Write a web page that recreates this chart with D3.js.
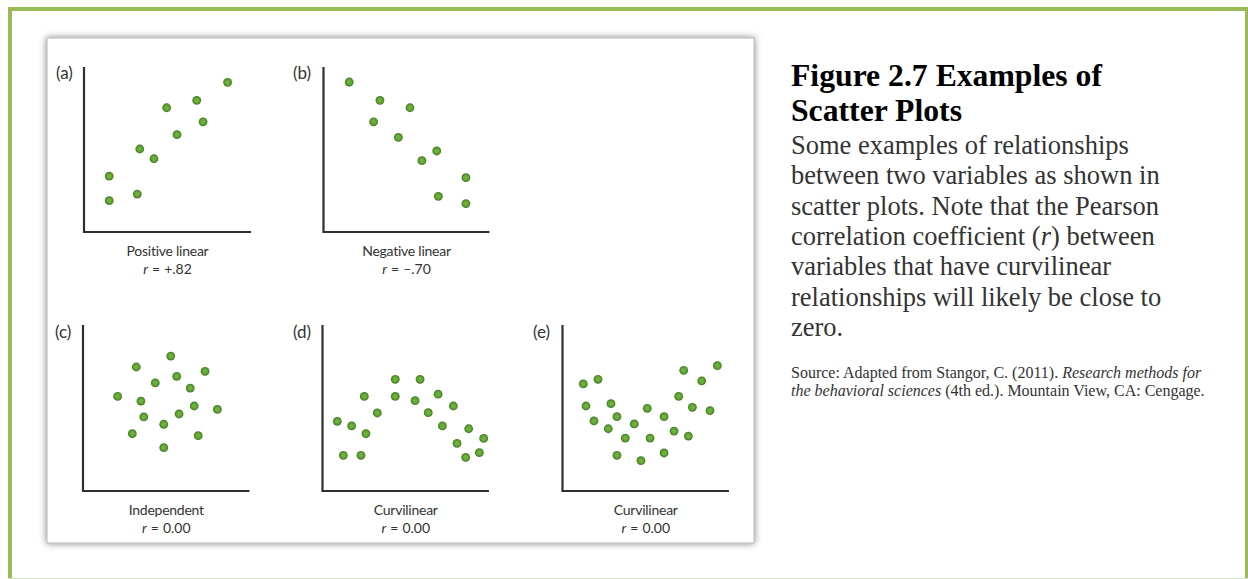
<!DOCTYPE html>
<html>
<head>
<meta charset="utf-8">
<script src="https://cdn.jsdelivr.net/npm/d3@7"></script>
<style>
  html, body { margin: 0; padding: 0; background: #ffffff; }
  svg { display: block; }
</style>
</head>
<body>
<script>
// ---------------- DATA ----------------
const panelIds = ["a", "b", "c", "d", "e"];
const panelTitles = ["Positive linear", "Negative linear", "Independent", "Curvilinear", "Curvilinear"];
const panelR = ["+.82", "\u2013.70", "0.00", "0.00", "0.00"];

// each point: [x, y] on a 0-10 axis
const pointsA = [[8.60,9.07],[6.75,7.98],[4.95,7.53],[7.13,6.68],[5.57,5.90],[3.34,5.03],[4.19,4.44],[1.51,3.39],[3.19,2.30],[1.51,1.90]];
const pointsB = [[1.55,9.09],[3.40,7.98],[5.21,7.53],[3.02,6.68],[4.51,5.74],[6.82,4.91],[5.93,4.32],[8.58,3.29],[6.92,2.16],[8.58,1.72]];
const pointsC = [[5.27,8.13],[3.20,7.47],[7.33,7.21],[5.63,6.91],[4.34,6.51],[6.44,6.20],[2.08,5.70],[3.48,5.42],[6.68,5.12],[8.07,4.92],[5.77,4.64],[3.65,4.46],[4.85,4.02],[2.96,3.45],[6.92,3.33],[4.85,2.61]];
const pointsD = [[4.37,6.73],[5.86,6.73],[2.51,5.70],[4.37,5.70],[6.94,5.83],[5.56,5.44],[7.86,5.12],[3.29,4.70],[6.35,4.72],[0.89,4.20],[1.75,3.92],[7.20,3.92],[8.78,3.75],[2.61,3.45],[9.68,3.17],[8.08,2.87],[9.42,2.31],[1.25,2.15],[2.31,2.15],[8.60,2.03]];
const pointsE = [[9.30,7.55],[7.28,7.27],[8.36,6.63],[2.13,6.73],[1.25,6.45],[6.98,5.70],[1.41,5.12],[2.91,5.26],[7.80,5.04],[5.09,4.98],[8.86,4.84],[6.10,4.48],[3.27,4.48],[1.89,4.22],[4.31,4.04],[2.75,3.75],[6.70,3.61],[7.56,3.31],[3.77,3.19],[5.26,3.19],[6.10,2.29],[3.27,2.15],[4.71,1.83]];
const panelPoints = [pointsA, pointsB, pointsC, pointsD, pointsE];
const axisDomain = [0, 10];

const titleLines = ["Figure 2.7 Examples of", "Scatter Plots"];
const bodyLines = [
  ["Some examples of relationships"],
  ["between two variables as shown in"],
  ["scatter plots. Note that the Pearson"],
  ["correlation coefficient (", "r", ") between"],
  ["variables that have curvilinear"],
  ["relationships will likely be close to"],
  ["zero."]
];
const sourceLines = [
  [["Source: Adapted from Stangor, C. (2011). ", false], ["Research methods for", true]],
  [["the behavioral sciences", true], [" (4th ed.). Mountain View, CA: Cengage.", false]]
];

// ---------------- LAYOUT ----------------
const W = 1248, H = 579;
const frames = [
  {x0: 84,    x1: 251,   yTop: 67,  yBot: 232, lx: 56,  ly: 79},
  {x0: 323.5, x1: 489.5, yTop: 67,  yBot: 232, lx: 293, ly: 79},
  {x0: 83,    x1: 249.5, yTop: 325, yBot: 491, lx: 55,  ly: 338},
  {x0: 322.5, x1: 489,   yTop: 325, yBot: 491, lx: 293, ly: 338},
  {x0: 562.5, x1: 729,   yTop: 325, yBot: 491, lx: 533, ly: 338}
];

const svg = d3.select("body").append("svg").attr("width", W).attr("height", H);
const defs = svg.append("defs");

const grad = defs.append("radialGradient").attr("id", "dot").attr("cx", "50%").attr("cy", "50%").attr("r", "50%");
grad.append("stop").attr("offset", "0%").attr("stop-color", "#78b848");
grad.append("stop").attr("offset", "55%").attr("stop-color", "#64a536");
grad.append("stop").attr("offset", "100%").attr("stop-color", "#3d7a1f");

const filt = defs.append("filter").attr("id", "shadow").attr("x", "-5%").attr("y", "-5%").attr("width", "110%").attr("height", "110%");
filt.append("feDropShadow").attr("dx", 0).attr("dy", 0).attr("stdDeviation", 3.5)
  .attr("flood-color", "#000").attr("flood-opacity", 0.5);

// outer green frame
svg.append("rect").attr("x", 0).attr("y", 0).attr("width", W).attr("height", H).attr("fill", "#fff");
svg.append("line").attr("x1", 8).attr("x2", 1248).attr("y1", 9).attr("y2", 9).attr("stroke", "#9bbb59").attr("stroke-width", 4);
svg.append("line").attr("x1", 10).attr("x2", 10).attr("y1", 7).attr("y2", 579).attr("stroke", "#9bbb59").attr("stroke-width", 4);
svg.append("line").attr("x1", 1246.5).attr("x2", 1246.5).attr("y1", 7).attr("y2", 579).attr("stroke", "#9bbb59").attr("stroke-width", 3);
svg.append("line").attr("x1", 8).attr("x2", 1248).attr("y1", 578.5).attr("y2", 578.5).attr("stroke", "#d5e3bb").attr("stroke-width", 1);

// image box with shadow
svg.append("rect").attr("x", 47).attr("y", 38).attr("width", 707).attr("height", 505)
  .attr("fill", "#fff").attr("stroke", "#b5b5b5").attr("stroke-width", 1).attr("filter", "url(#shadow)");

const labelFont = "Lato, 'Open Sans', sans-serif";

panelIds.forEach((id, i) => {
  const f = frames[i];
  const x = d3.scaleLinear().domain(axisDomain).range([f.x0, f.x1]);
  const y = d3.scaleLinear().domain(axisDomain).range([f.yBot, f.yTop]);
  const g = svg.append("g");

  // axes as L-shaped frame
  g.append("path")
    .attr("d", `M${x(0)},${y(10)} L${x(0)},${y(0)} L${x(10)},${y(0)}`)
    .attr("fill", "none").attr("stroke", "#2f2f2f").attr("stroke-width", 2.2);

  g.selectAll("circle").data(panelPoints[i]).join("circle")
    .attr("cx", d => x(d[0])).attr("cy", d => y(d[1])).attr("r", 4.4)
    .attr("fill", "url(#dot)");

  g.append("text").attr("x", f.lx).attr("y", f.ly)
    .attr("font-family", labelFont).attr("font-size", 17).attr("fill", "#333")
    .text("(" + id + ")");

  const cx = (x(0) + x(10)) / 2;
  g.append("text").attr("x", cx).attr("y", y(0) + 24).attr("text-anchor", "middle")
    .attr("font-family", labelFont).attr("font-size", 14).attr("letter-spacing", -0.25).attr("fill", "#333")
    .text(panelTitles[i]);
  const t = g.append("text").attr("x", cx).attr("y", y(0) + 41.5).attr("text-anchor", "middle")
    .attr("font-family", labelFont).attr("font-size", 14).attr("fill", "#333");
  t.append("tspan").attr("font-style", "italic").text("r");
  t.append("tspan").attr("dx", 4).text("=");
  t.append("tspan").attr("dx", 4).text(panelR[i]);
});

// right-hand caption
const serif = "'Liberation Serif', 'Times New Roman', serif";
titleLines.forEach((s, i) => {
  svg.append("text").attr("x", 791).attr("y", 86 + i * 35)
    .attr("font-family", serif).attr("font-weight", "bold").attr("font-size", 31.7).attr("fill", "#000")
    .text(s);
});
bodyLines.forEach((parts, i) => {
  const t = svg.append("text").attr("x", 791).attr("y", 154 + i * 30.3)
    .attr("font-family", serif).attr("font-size", 26.5).attr("fill", "#333");
  parts.forEach((p, j) => {
    t.append("tspan").attr("font-style", (parts.length === 3 && j === 1) ? "italic" : "normal").text(p);
  });
});
sourceLines.forEach((parts, i) => {
  const t = svg.append("text").attr("x", 791).attr("y", 378 + i * 17.6)
    .attr("font-family", serif).attr("font-size", 16).attr("fill", "#333");
  parts.forEach(p => {
    t.append("tspan").attr("font-style", p[1] ? "italic" : "normal").text(p[0]);
  });
});
</script>
</body>
</html>
